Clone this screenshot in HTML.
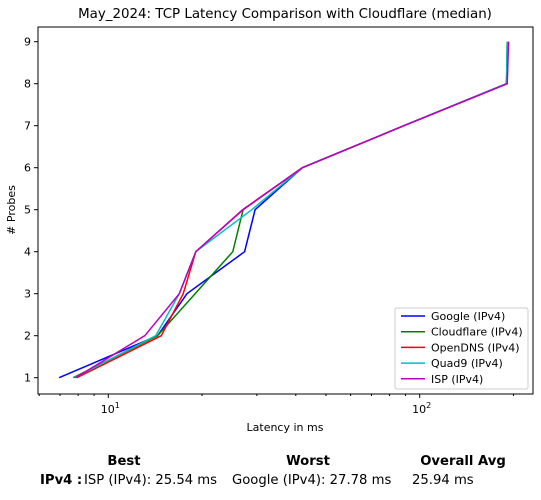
<!DOCTYPE html>
<html><head><meta charset="utf-8"><style>
body{margin:0;background:#fff;font-family:"DejaVu Sans","Liberation Sans",sans-serif;}
svg text{font-family:"DejaVu Sans","Liberation Sans",sans-serif;}
</style></head><body>
<svg id="chart" width="541" height="496" xmlns="http://www.w3.org/2000/svg">
<rect width="541" height="496" fill="#fff"/>
<text x="285" y="18" font-size="13.4" text-anchor="middle">May_2024: TCP Latency Comparison with Cloudflare (median)</text>
<g id="grid"></g>
<g id="series"></g>
<rect x="38" y="27" width="495" height="367" fill="none" stroke="#000" stroke-width="1"/>
<text x="285" y="431" font-size="11" text-anchor="middle">Latency in ms</text>
<text x="15" y="210" font-size="11" text-anchor="middle" transform="rotate(-90 15 210)"># Probes</text>
<g id="legend">
<rect x="395" y="308" width="133" height="81" fill="#fff" stroke="#ccc" rx="2"/>
</g>
<g font-size="13.2">
<text x="124" y="465" font-weight="bold" text-anchor="middle">Best</text>
<text x="308" y="465" font-weight="bold" text-anchor="middle">Worst</text>
<text x="463" y="465" font-weight="bold" text-anchor="middle">Overall Avg</text>
<text x="40" y="484" font-weight="bold">IPv4 :</text>
<text x="84" y="484">ISP (IPv4): 25.54 ms</text>
<text x="232" y="484">Google (IPv4): 27.78 ms</text>
<text x="412" y="484">25.94 ms</text>
</g>
</svg>
<script>
const probes=[1,2,3,4,5,6,7,8,9];
const googleMs=[6.95,14.4,17.9,27.4,29.6,42,89,190,192];
const cloudflareMs=[7.72,14.4,19.0,25.1,27.1,42,89,190,191];
const opendnsMs=[7.92,14.8,17.4,19.1,27.1,42,89,191,192];
const quad9Ms=[7.8,14.2,16.9,19.1,28.9,42,89,190,191];
const ispMs=[7.85,13.1,16.9,19.1,27.0,42,89,191,193];
const seriesNames=["Google (IPv4)","Cloudflare (IPv4)","OpenDNS (IPv4)","Quad9 (IPv4)","ISP (IPv4)"];
const seriesColors=["#0000ff","#008000","#ff0000","#00bfbf","#bf00bf"];
const yTicks=[1,2,3,4,5,6,7,8,9];
const xMajor=[10,100];
const xMinor=[6,7,8,9,20,30,40,50,60,70,80,90,200];
const NS="http://www.w3.org/2000/svg";
function xs(v){return 108.3+(Math.log10(v)-1)*311.4;}
function ys(v){return 377.7-(v-1)*42;}
const grid=document.getElementById('grid'),ser=document.getElementById('series'),leg=document.getElementById('legend');
function mk(t,a,p){const e=document.createElementNS(NS,t);for(const k in a)e.setAttribute(k,a[k]);p.appendChild(e);return e;}
yTicks.forEach(v=>{
 const l=mk('line',{x1:34,x2:38,y1:ys(v),y2:ys(v),stroke:'#000'},grid);
 
 
 const t=mk('text',{x:31,y:ys(v)+4,'font-size':11,'text-anchor':'end'},grid);t.textContent=v;
 
 
});
xMajor.forEach(v=>{
 const l=mk('line',{x1:xs(v),x2:xs(v),y1:394,y2:398,stroke:'#000'},grid);
 
 
 const t=mk('text',{x:xs(v)+2,y:413,'font-size':11,'text-anchor':'middle'},grid);
 
 
 t.innerHTML='10<tspan dy="-5" font-size="8">'+Math.round(Math.log10(v))+'</tspan>';
});
xMinor.forEach(v=>{
 const l=mk('line',{x1:xs(v),x2:xs(v),y1:394,y2:396,stroke:'#000'},grid);
 
 
});
const data=[googleMs,cloudflareMs,opendnsMs,quad9Ms,ispMs];
data.forEach((arr,i)=>{
 const pts=arr.map((v,j)=>xs(v).toFixed(1)+','+ys(probes[j]).toFixed(1)).join(' ');
 const p=mk('polyline',{points:pts,fill:'none',stroke:seriesColors[i],'stroke-width':1.5},ser);
 
 
 const y=316+i*15.7;
 const ll=mk('line',{x1:401,x2:425,y1:y,y2:y,stroke:seriesColors[i],'stroke-width':1.5},leg);
 
 
 const lt=mk('text',{x:431,y:y+4,'font-size':11},leg);lt.textContent=seriesNames[i];
 
 
});
</script>
</body></html>
